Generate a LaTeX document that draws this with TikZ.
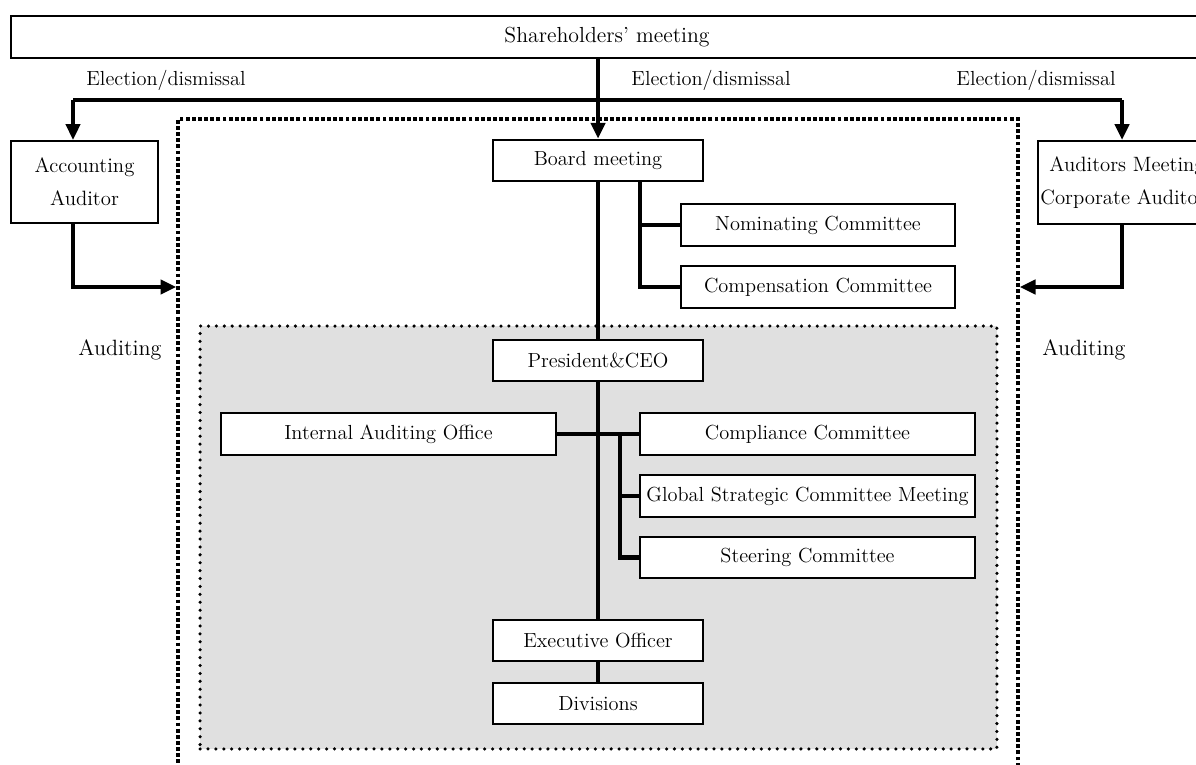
\documentclass[tikz,border=0pt]{standalone}
\usetikzlibrary{arrows.meta}
\begin{document}
\begin{tikzpicture}[x=0.02cm,y=-0.02cm,
    font=\fontsize{11.6}{13}\selectfont,
    box/.style={draw,line width=1.2pt,fill=white,inner sep=0pt,minimum height=0.83cm},
    conn/.style={line width=2.4pt},
    arr/.style={conn,-{Triangle[length=9pt,width=8pt]}},
    twoline/.style={align=center,font=\fontsize{11.8}{18.7}\selectfont}]
            \useasboundingbox (0,0) rectangle (1196,764);
            \clip (0,0) rectangle (1196,764);

            % Outer frame and stippled area
            \node[draw,line width=2pt,dash pattern=on 2.2pt off 1.3pt,minimum width=16.8cm,minimum height=13.62cm] (frame) at (598,459.5) {};
            \node[fill=black!12,draw,line width=2pt,line cap=round,dash pattern=on 0pt off 4.5pt,minimum width=15.94cm,minimum height=8.46cm] (exec) at (598.5,537.5) {};

            % Shareholders' meeting
            \node[box,font=\fontsize{12.4}{14}\selectfont,minimum width=23.84cm,minimum height=0.84cm] (share) at (607,37) {Shareholders' meeting};
            \node (elecL) at (166,80) {Election/dismissal};
            \node (elecM) at (711,80) {Election/dismissal};
            \node (elecR) at (1036,80) {Election/dismissal};
            \coordinate (busL) at (73,100);
            \coordinate (busR) at (1122,100);

            % Board and committees
            \node[box,minimum width=4.2cm] (board) at (598,160.5) {Board meeting};
            \node[box,minimum width=5.48cm] (nom) at (818,225) {Nominating Committee};
            \node[box,minimum width=5.48cm] (comp) at (818,287) {Compensation Committee};
            \coordinate (bbr) at (640,181);

            % Auditors
            \node[box,twoline,minimum width=2.94cm,minimum height=1.64cm] (acc) at (84.5,182) {Accounting\\Auditor};
            \node[box,twoline,minimum width=3.56cm,minimum height=1.66cm] (aud) at (1127,182.5) {Auditors Meeting\\Corporate Auditors};
            \node[font=\fontsize{12.6}{15}\selectfont] (audL) at (120,350) {Auditing};
            \node[font=\fontsize{12.6}{15}\selectfont] (audR) at (1084,350) {Auditing};

            % Execution
            \node[box,minimum width=4.2cm] (ceo) at (598,360.5) {President\&CEO};
            \node[box,minimum width=6.7cm] (iao) at (388.5,434) {Internal Auditing Office};
            \node[box,minimum width=6.7cm] (cc) at (807.5,434) {Compliance Committee};
            \node[box,minimum width=6.7cm] (gsc) at (807.5,496) {Global Strategic Committee Meeting};
            \node[box,minimum width=6.7cm] (sc) at (807.5,557.5) {Steering Committee};
            \node[box,minimum width=4.2cm] (eo) at (598,640.5) {Executive Officer};
            \node[box,minimum width=4.2cm] (div) at (598,703.5) {Divisions};
            \coordinate (cbr) at (620,434);

            % Connectors
            \draw[conn] (busL) -- (busR);
            \draw[arr] (share.south -| board) -- (board.north);
            \draw[arr] (busL) -- (acc.north -| busL);
            \draw[arr] (busR) -- (aud.north -| busR);
            \draw[arr] (acc.south -| busL) |- (frame.west |- comp);
            \draw[arr] (aud.south -| busR) |- (frame.east |- comp);
            \draw[conn] (board.south -| bbr) |- (comp.west);
            \draw[conn] (bbr |- nom) -- (nom.west);
            \draw[conn] (board) -- (ceo);
            \draw[conn] (ceo) -- (eo);
            \draw[conn] (eo) -- (div);
            \draw[conn] (iao.east) -- (cc.west);
            \draw[conn] (cbr) |- (sc.west);
            \draw[conn] (cbr |- gsc) -- (gsc.west);
        \end{tikzpicture}
\end{document}
